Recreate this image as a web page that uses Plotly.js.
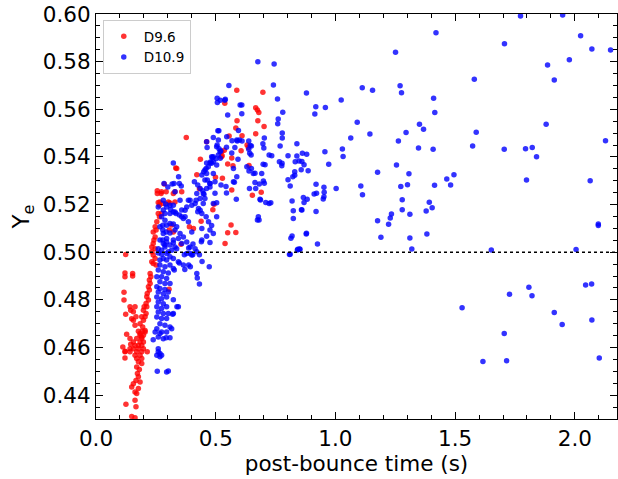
<!DOCTYPE html>
<html>
<head>
<meta charset="utf-8">
<script src="https://cdn.plot.ly/plotly-3.0.1.min.js"></script>
<style>html,body{margin:0;padding:0;background:#fff;}#chart{width:618px;height:479px;}</style>
</head>
<body>
<div id="chart"></div>
<script>
// D9.6 series: post-bounce time (s) and Ye
const redT = [
0.588,0.697,0.538,0.667,0.674,0.680,0.589,0.676,0.702,0.584,0.377,0.556,0.610,0.667,0.462,0.631,0.636,0.536,0.606,0.527,
0.567,0.436,0.525,0.550,0.572,0.499,0.528,0.567,0.690,0.653,0.493,0.488,0.564,0.550,0.584,0.539,0.355,0.421,0.432,0.524,
0.639,0.333,0.337,0.285,
0.256,0.256,0.274,0.272,0.293,0.260,0.267,0.281,0.265,0.302,0.309,0.323,0.330,0.358,0.330,0.274,0.265,0.254,0.247,0.251,
0.260,0.239,0.247,0.242,0.239,0.233,0.247,0.316,0.323,0.390,0.407,0.439,0.306,
0.233,0.239,0.247,0.233,0.239,0.251,0.124,0.121,0.153,0.121,0.153,0.226,0.229,0.223,0.226,0.219,0.223,0.214,0.212,0.219,
0.209,0.201,0.212,0.198,0.209,0.191,0.205,0.198,0.184,0.195,0.205,0.184,0.191,0.117,0.117,0.142,0.163,0.145,0.156,0.124,
0.156,0.149,0.167,0.163,0.305,
0.177,0.193,0.205,0.184,0.198,0.170,0.191,0.142,0.184,0.198,0.163,0.177,0.191,0.156,0.177,0.198,0.214,0.170,0.191,0.121,
0.142,0.121,0.163,0.184,0.170,0.191,0.177,0.191,0.170,0.181,0.173,0.177,0.167,0.156,0.184,0.149,0.177,0.163,0.170,0.163,
0.125,0.167,0.149,0.163,0.128,0.145,0.156,0.142,0.112,0.122
];
const redYe = [
0.5680,0.5672,0.5625,0.5606,0.5597,0.5587,0.5552,0.5552,0.5528,0.5521,0.5482,0.5488,0.5489,0.5497,0.5464,0.5450,0.5440,0.5428,0.5426,0.5405,
0.5396,0.5390,0.5422,0.5370,0.5363,0.5315,0.5311,0.5261,0.5252,0.5239,0.5201,0.5178,0.5114,0.5082,0.5083,0.5037,0.5033,0.5325,0.5266,0.5401,
0.5364,0.5354,0.5352,0.5286,
0.5258,0.5247,0.5254,0.5247,0.5254,0.5209,0.5211,0.5205,0.5197,0.5211,0.5207,0.5247,0.5254,0.5254,0.5211,0.5163,0.5149,0.5128,0.5107,0.5093,
0.5163,0.5085,0.5064,0.5051,0.5037,0.5022,0.5015,0.5114,0.5085,0.5107,0.5100,0.5130,0.5093,
0.5002,0.4988,0.4974,0.4960,0.4953,0.4946,0.4990,0.4913,0.4911,0.4897,0.4900,0.4911,0.4897,0.4883,0.4869,0.4855,0.4841,0.4827,0.4813,0.4799,
0.4785,0.4771,0.4771,0.4757,0.4743,0.4729,0.4729,0.4714,0.4700,0.4686,0.4672,0.4659,0.4644,0.4832,0.4799,0.4771,0.4771,0.4757,0.4750,0.4740,
0.4714,0.4721,0.4729,0.4694,0.4845,
0.4668,0.4668,0.4665,0.4652,0.4652,0.4638,0.4638,0.4638,0.4623,0.4623,0.4609,0.4609,0.4609,0.4595,0.4595,0.4595,0.4582,0.4582,0.4582,0.4582,
0.4582,0.4556,0.4568,0.4568,0.4554,0.4554,0.4540,0.4533,0.4518,0.4508,0.4491,0.4477,0.4462,0.4448,0.4455,0.4434,0.4428,0.4413,0.4407,0.4379,
0.4362,0.4351,0.4311,0.4305,0.4656,0.4614,0.4623,0.4595,0.4602,0.4584
];

// D10.9 series: post-bounce time (s) and Ye
const blueT = [
1.420,1.251,1.706,1.773,1.949,2.024,2.071,2.149,1.886,1.977,1.580,1.914,0.879,1.112,1.155,1.270,1.276,1.024,1.410,1.415,
0.918,0.958,0.914,1.091,1.064,1.144,1.295,1.351,1.368,1.880,1.588,1.263,1.347,1.408,1.573,1.705,1.794,1.822,1.840,2.128,
0.862,0.956,1.029,1.032,0.860,0.869,0.857,0.886,0.972,1.255,1.176,1.307,1.465,1.495,1.481,1.414,1.301,1.273,1.106,1.113,
1.003,0.919,0.952,0.953,0.911,0.921,0.952,0.949,0.866,0.869,0.882,0.858,0.919,1.279,1.279,1.311,1.234,1.229,1.392,1.404,
1.379,1.798,2.064,1.176,1.222,2.098,2.098,0.878,1.190,1.311,1.382,
0.925,1.319,1.651,2.005,0.852,1.529,1.616,1.715,1.705,1.727,1.808,1.821,1.914,1.947,2.045,2.070,2.071,2.102,0.808,0.843,
0.676,0.744,0.555,0.741,0.506,0.507,0.519,0.538,0.540,0.758,0.602,0.609,0.609,0.550,0.780,0.759,0.761,0.595,0.513,0.509,
0.778,0.778,0.490,0.546,0.462,0.568,0.590,0.610,0.638,0.464,0.506,0.514,0.521,0.545,0.580,0.644,0.649,0.697,0.701,0.703,
0.769,0.839,0.567,0.638,0.642,0.648,0.723,0.734,0.802,0.839,0.880,0.486,0.501,0.519,0.593,
0.483,0.776,0.832,0.802,0.822,0.830,0.811,0.698,0.706,0.649,0.639,0.664,0.692,0.699,0.703,0.664,0.682,0.667,0.641,0.543,
0.545,0.578,0.497,0.476,0.586,0.687,0.709,0.723,0.730,0.504,0.819,0.860,0.824,0.824,0.678,0.681,0.674,0.483,0.879,0.819,
0.814,0.850,0.841,0.811,0.476,
0.387,0.405,0.440,0.369,0.394,0.404,0.432,0.443,0.473,0.421,0.432,0.423,0.387,0.394,0.371,0.338,0.320,
0.260,0.274,0.295,0.281,0.267,0.295,0.309,0.323,0.344,0.365,0.379,0.400,0.421,0.267,0.288,0.309,0.323,0.260,0.281,0.302,
0.254,0.274,0.295,0.267,0.288,0.309,0.254,0.267,0.288,0.260,0.281,0.302,0.254,0.274,0.295,0.260,0.281,0.254,0.274,0.295,
0.323,0.344,0.260,0.281,0.302,0.323,0.254,0.274,0.295,0.267,0.288,0.309,0.254,0.247,0.274,0.295,0.316,0.260,0.281,0.309,
0.348,0.327,
0.239,0.267,0.293,0.260,0.260,0.267,0.254,0.274,0.267,0.256,0.295,0.302,
0.323,0.345,0.326,0.348,0.356,0.291,0.309,0.312,0.323,0.334,0.348,0.358,0.365,0.281,0.274,0.288,0.279,0.295,0.309,0.323,
0.337,0.279,0.293,0.309,0.330,0.351,0.365,0.344,0.323,0.295,0.279,0.288,0.309,0.330,0.358,0.379,0.393,0.414,0.372,0.386,
0.400,0.414,0.428,0.442,0.460,0.470,0.386,0.372,0.435,0.448,0.462,0.476,0.465,0.490,0.504,0.483,0.455,0.442,0.425,0.476,
0.490,0.462,0.442,0.400,
0.450,0.460,0.469,0.476,0.490,0.511,0.518,0.411,0.425,0.435,0.446,0.451,0.418,0.455,0.476,0.497,0.522,0.574,0.284,0.300,
0.318,0.330,0.351,0.281,0.295,0.323,0.358,0.379,0.330,0.288,0.309,0.574,0.588,0.630,0.657,0.685,0.830,0.848,0.766,0.777,
0.588,0.599,
0.267,0.281,0.295,0.323,0.260,0.274,0.288,0.302,0.316,0.337,
0.260,0.267,0.281,0.393,0.421,0.455,0.462,0.479,0.490,0.504,0.511,0.462,0.448,0.435,0.442,0.490,0.504
];
const blueYe = [
0.5921,0.5839,0.5875,0.5992,0.5996,0.5909,0.5853,0.5849,0.5786,0.5808,0.5726,0.5723,0.5668,0.5690,0.5680,0.5699,0.5669,0.5639,0.5646,0.5587,
0.5611,0.5608,0.5580,0.5546,0.5480,0.5496,0.5503,0.5537,0.5516,0.5537,0.5504,0.5467,0.5438,0.5432,0.5446,0.5432,0.5434,0.5440,0.5401,0.5468,
0.5415,0.5422,0.5433,0.5402,0.5381,0.5367,0.5346,0.5342,0.5369,0.5366,0.5336,0.5329,0.5307,0.5325,0.5282,0.5281,0.5283,0.5276,0.5278,0.5241,
0.5268,0.5285,0.5273,0.5252,0.5244,0.5248,0.5233,0.5223,0.5230,0.5209,0.5222,0.5178,0.5171,0.5220,0.5178,0.5159,0.5160,0.5144,0.5210,0.5187,
0.5173,0.5303,0.5300,0.5132,0.5117,0.5119,0.5112,0.5077,0.5063,0.5060,0.5077,
0.5035,0.5014,0.5009,0.5012,0.5013,0.4767,0.4541,0.4544,0.4659,0.4824,0.4853,0.4817,0.4747,0.4697,0.4862,0.4867,0.4716,0.4556,0.4991,0.5013,
0.5800,0.5790,0.5700,0.5702,0.5646,0.5629,0.5638,0.5638,0.5642,0.5643,0.5618,0.5618,0.5581,0.5576,0.5588,0.5539,0.5559,0.5511,0.5510,0.5510,
0.5501,0.5479,0.5482,0.5485,0.5464,0.5468,0.5467,0.5467,0.5467,0.5440,0.5450,0.5434,0.5426,0.5441,0.5440,0.5448,0.5446,0.5455,0.5438,0.5480,
0.5446,0.5455,0.5417,0.5432,0.5415,0.5408,0.5408,0.5405,0.5405,0.5404,0.5411,0.5398,0.5392,0.5394,0.5390,
0.5401,0.5363,0.5380,0.5304,0.5317,0.5323,0.5278,0.5369,0.5367,0.5352,0.5341,0.5332,0.5331,0.5299,0.5290,0.5293,0.5286,0.5268,0.5268,0.5276,
0.5249,0.5294,0.5248,0.5289,0.5222,0.5219,0.5209,0.5205,0.5208,0.5208,0.5215,0.5177,0.5174,0.5142,0.5149,0.5135,0.5135,0.5112,0.5080,0.5068,
0.5059,0.5014,0.5009,0.4992,0.5041,
0.5018,0.5035,0.5044,0.4989,0.4995,0.4989,0.4989,0.4961,0.4939,0.4911,0.4867,0.4892,0.4946,0.4939,0.4928,0.4771,0.4740,
0.4997,0.4992,0.4995,0.4974,0.4967,0.4967,0.4981,0.4974,0.4960,0.4946,0.4995,0.4988,0.5002,0.4946,0.4939,0.4946,0.4932,0.4925,0.4918,0.4913,
0.4897,0.4897,0.4890,0.4876,0.4869,0.4869,0.4855,0.4848,0.4844,0.4833,0.4826,0.4833,0.4812,0.4805,0.4812,0.4791,0.4784,0.4771,0.4764,0.4771,
0.4801,0.4771,0.4749,0.4743,0.4743,0.4743,0.4728,0.4722,0.4722,0.4700,0.4693,0.4686,0.4679,0.4665,0.4665,0.4665,0.4679,0.4644,0.4637,0.4641,
0.4955,0.4925,
0.4633,0.4659,0.4641,0.4595,0.4582,0.4575,0.4568,0.4568,0.4561,0.4500,0.4497,0.4501,
0.5375,0.5317,0.5289,0.5289,0.5278,0.5202,0.5197,0.5179,0.5169,0.5163,0.5156,0.5149,0.5142,0.5177,0.5149,0.5134,0.5113,0.5113,0.5121,0.5118,
0.5107,0.5093,0.5085,0.5081,0.5093,0.5079,0.5064,0.5058,0.5051,0.5058,0.5051,0.5030,0.5030,0.5022,0.5037,0.5043,0.5022,0.5015,0.5149,0.5128,
0.5197,0.5205,0.5184,0.5163,0.5149,0.5128,0.5218,0.5176,0.5226,0.5247,0.5268,0.5289,0.5303,0.5331,0.5366,0.5373,0.5345,0.5324,0.5170,0.5093,
0.5079,0.5067,0.5051,0.5085,
0.5338,0.5352,0.5359,0.5375,0.5380,0.5408,0.5422,0.5296,0.5282,0.5268,0.5258,0.5243,0.5218,0.5226,0.5274,0.5296,0.5282,0.5296,0.5289,0.5274,
0.5286,0.5254,0.5218,0.5218,0.5190,0.5197,0.5177,0.5190,0.5169,0.5163,0.5163,0.5352,0.5317,0.5359,0.5331,0.5222,0.5338,0.5383,0.5380,0.5373,
0.5471,0.5471,
0.5051,0.5037,0.5043,0.5040,0.5015,0.5008,0.5022,0.5002,0.5008,0.5015,
0.5190,0.5107,0.5079,0.5218,0.5247,0.5303,0.5331,0.5380,0.5401,0.5443,0.5471,0.5375,0.5205,0.5176,0.5100,0.5205,0.5149
];

const seriesNames = ['D9.6', 'D10.9'];
const refYe = 0.5;

const FONT = 'DejaVu Sans, sans-serif';

const traces = [
  {x: redT, y: redYe, name: seriesNames[0], type: 'scatter', mode: 'markers',
   marker: {color: 'rgb(255,0,0)', size: 5.5, opacity: 0.8, line: {width: 0}}},
  {x: blueT, y: blueYe, name: seriesNames[1], type: 'scatter', mode: 'markers',
   marker: {color: 'rgb(0,0,255)', size: 5.5, opacity: 0.8, line: {width: 0}}}
];

const axisCommon = {
  showgrid: false, zeroline: false, showline: true, linecolor: 'black', linewidth: 1,
  mirror: 'ticks', ticks: 'inside', ticklen: 7, tickwidth: 1, tickcolor: 'black',
  tickfont: {family: FONT, size: 21.5, color: 'black'}
};

const layout = {
  width: 618, height: 479,
  margin: {l: 96, r: 1, t: 14, b: 60},
  paper_bgcolor: 'white', plot_bgcolor: 'white',
  font: {family: FONT, color: 'black'},
  showlegend: true,
  legend: {x: 0.013, y: 0.985, xanchor: 'left', yanchor: 'top',
           bgcolor: 'white', bordercolor: '#cccccc', borderwidth: 1,
           font: {family: FONT, size: 13.5, color: 'black'}, itemwidth: 30},
  xaxis: Object.assign({}, axisCommon, {
    range: [0, 2.176], dtick: 0.5, tick0: 0, tickformat: '.1f',
    minor: {dtick: 0.1, ticks: 'inside', ticklen: 4, tickcolor: 'black', showgrid: false},
    title: {text: 'post-bounce time (s)', font: {family: FONT, size: 21.5, color: 'black'}, standoff: 4}
  }),
  yaxis: Object.assign({}, axisCommon, {
    range: [0.43, 0.60], dtick: 0.02, tick0: 0.4, tickformat: '.2f',
    minor: {dtick: 0.005, ticks: 'inside', ticklen: 4, tickcolor: 'black', showgrid: false},
    title: {text: 'Y<sub>e</sub>', font: {family: FONT, size: 23, color: 'black'}, standoff: 6}
  }),
  shapes: [{type: 'line', xref: 'paper', x0: 0, x1: 1, yref: 'y', y0: refYe, y1: refYe,
            layer: 'above', line: {color: 'black', width: 1.6, dash: 'dot'}}]
};

Plotly.newPlot('chart', traces, layout, {displayModeBar: false, staticPlot: true});
</script>
</body>
</html>
